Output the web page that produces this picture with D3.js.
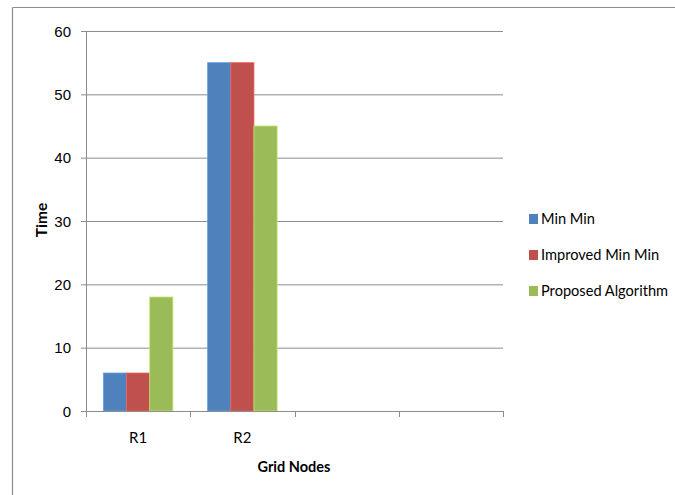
<!DOCTYPE html>
<html>
<head>
<meta charset="utf-8">
<script src="https://cdn.jsdelivr.net/npm/d3@7"></script>
<style>
  html, body { margin: 0; padding: 0; background: #fff; }
  svg { display: block; font-family: Lato, "Open Sans", sans-serif; }
</style>
</head>
<body>
<svg id="chart" width="675" height="495"></svg>
<script>
// Category slots on the x axis (last two are empty slots)
const categories = ["R1", "R2", "", ""];
// Series values per category
const minMin = [6, 55, null, null];
const improvedMinMin = [6, 55, null, null];
const proposedAlgorithm = [18, 45, null, null];
const seriesNames = ["Min Min", "Improved Min Min", "Proposed Algorithm"];
const seriesColors = ["#4F81BD", "#C0504D", "#9BBB59"];
const yTicks = [0, 10, 20, 30, 40, 50, 60];

const seriesValues = [minMin, improvedMinMin, proposedAlgorithm];

const svg = d3.select("#chart");

// outer frame (top and left edges)
svg.append("line").attr("x1", 12.5).attr("x2", 675).attr("y1", 7.5).attr("y2", 7.5)
  .attr("stroke", "#8c8c8c").attr("stroke-width", 1.2);
svg.append("line").attr("x1", 12.5).attr("x2", 12.5).attr("y1", 7.5).attr("y2", 495)
  .attr("stroke", "#8c8c8c").attr("stroke-width", 1.2);

const plot = { left: 86, right: 503, top: 31, bottom: 411 };

const x = d3.scaleBand()
  .domain(d3.range(categories.length))
  .range([plot.left, plot.right])
  .paddingInner(0).paddingOuter(0);

// bars take 3 slots of width w plus a 1.5w gap per category
const barW = x.bandwidth() / 4.5;
const xs = d3.scaleBand()
  .domain(d3.range(seriesNames.length))
  .range([barW * 0.75, barW * 0.75 + barW * 3]);

const y = d3.scaleLinear().domain([0, 60]).range([plot.bottom, plot.top]);

// horizontal gridlines with short left ticks
const yAxis = d3.axisLeft(y).tickValues(yTicks)
  .tickSize(-(plot.right - plot.left)).tickSizeOuter(0).tickPadding(15);
const gy = svg.append("g").attr("transform", `translate(${plot.left},0)`).call(yAxis);
gy.select(".domain").remove();
gy.selectAll(".tick line").attr("stroke", "#8c8c8c").attr("x1", -5);
gy.selectAll(".tick text").attr("fill", "#000").attr("font-size", 15).attr("dy", "0.35em");

// vertical axis line
svg.append("line").attr("x1", plot.left + 0.5).attr("x2", plot.left + 0.5)
  .attr("y1", plot.top).attr("y2", plot.bottom)
  .attr("stroke", "#8c8c8c");

// bars
const groups = svg.append("g").selectAll("g")
  .data(categories.map((c, i) => i))
  .join("g")
  .attr("transform", i => `translate(${x(i)},0)`);

groups.selectAll("rect")
  .data(i => seriesValues.map((vals, s) => ({ s, v: vals[i] })).filter(d => d.v != null))
  .join("rect")
  .attr("x", d => xs(d.s))
  .attr("width", xs.bandwidth())
  .attr("y", d => y(d.v))
  .attr("height", d => y(0) - y(d.v))
  .attr("fill", d => seriesColors[d.s])
  .attr("stroke", d => d3.color(seriesColors[d.s]).brighter(0.6))
  .attr("stroke-width", 0.8);

// x axis with boundary ticks between categories
const xAxisG = svg.append("g");
xAxisG.append("line").attr("x1", plot.left).attr("x2", plot.right)
  .attr("y1", plot.bottom + 0.5).attr("y2", plot.bottom + 0.5).attr("stroke", "#8c8c8c");
const boundaries = d3.range(categories.length + 1).map(i => plot.left + i * x.bandwidth());
xAxisG.selectAll("line.tick").data(boundaries).join("line")
  .attr("class", "tick")
  .attr("x1", d => Math.round(d) + 0.5).attr("x2", d => Math.round(d) + 0.5)
  .attr("y1", plot.bottom).attr("y2", plot.bottom + 6)
  .attr("stroke", "#8c8c8c");
xAxisG.selectAll("text").data(categories.map((c, i) => ({ c, i }))).join("text")
  .attr("x", d => x(d.i) + x.bandwidth() / 2)
  .attr("y", 438)
  .attr("dy", "0.35em")
  .attr("text-anchor", "middle")
  .attr("font-size", 15)
  .text(d => d.c);

// axis titles
svg.append("text").attr("x", 294).attr("y", 467).attr("dy", "0.35em")
  .attr("text-anchor", "middle").attr("font-weight", "bold").attr("font-size", 14.5)
  .text("Grid Nodes");
svg.append("text")
  .attr("transform", "translate(42,220) rotate(-90)")
  .attr("dy", "0.35em")
  .attr("text-anchor", "middle").attr("font-weight", "bold").attr("font-size", 15.5)
  .text("Time");

// legend
const legend = svg.append("g").selectAll("g").data(seriesNames).join("g")
  .attr("transform", (d, i) => `translate(529,${219 + i * 36})`);
legend.append("rect").attr("x", 0).attr("y", -5).attr("width", 9).attr("height", 10)
  .attr("fill", (d, i) => seriesColors[i]);
legend.append("text").attr("x", 12).attr("dy", "0.35em").attr("font-size", 14.6)
  .text(d => d);
</script>
</body>
</html>
